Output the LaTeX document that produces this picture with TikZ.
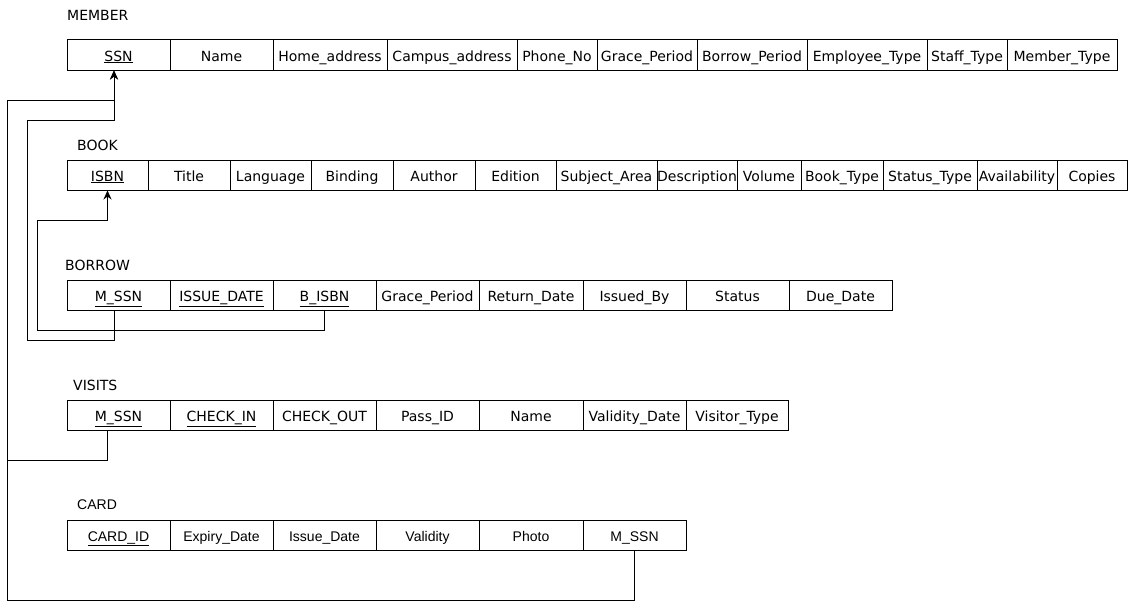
\documentclass[tikz,border=0pt]{standalone}
\usepackage{fontspec}
\setmainfont{DejaVu Sans}
\newfontfamily\arialfont{Liberation Sans}
\usetikzlibrary{arrows.meta}

\tikzset{
  attr/.style = {draw, line width=1pt, inner sep=0pt, minimum height=30pt,
                 text height=12pt, text depth=0pt,
                 font=\fontsize{14}{16}\selectfont},
  cardattr/.style = {attr, font=\arialfont\fontsize{14}{16}\selectfont},
  title/.style = {anchor=west, inner sep=0pt, font=\fontsize{14}{16}\selectfont},
  fk/.style = {line width=1pt},
  fkarrow/.style = {fk, -{Stealth[length=9pt, width=8pt]}},
}

\begin{document}
\begin{tikzpicture}[x=1pt, y=-1pt]
  \useasboundingbox (0,0) rectangle (1129,602);

  % MEMBER
  \node [title] (member) at (67,15) {MEMBER};
  \foreach \xa/\xb/\txt/\nm in {67/170/\underline{SSN}/ssn, 170/273/Name/name,
      273/387/Home\_address/home, 387/517/Campus\_address/campus,
      517/597/Phone\_No/phone, 597/697/Grace\_Period/grace,
      697/807/Borrow\_Period/borrow, 807/927/Employee\_Type/emp,
      927/1007/Staff\_Type/staff, 1007/1117/Member\_Type/mtype}
    \node [attr, minimum width=\xb-\xa] (mem-\nm) at ({(\xa+\xb)/2},55) {\txt};

  % BOOK
  \node [title] (book) at (77,145) {BOOK};
  \foreach \xa/\xb/\txt/\nm in {67/148/\underline{ISBN}/isbn, 148/230/Title/title,
      230/311/Language/lang, 311/393/Binding/bind, 393/475/Author/author,
      475/556/Edition/edition, 556/657/Subject\_Area/subject,
      657/737/Description/descr, 737/801/Volume/volume,
      801/883/Book\_Type/btype, 883/977/Status\_Type/stype,
      977/1057/Availability/avail, 1057/1127/Copies/copies}
    \node [attr, minimum width=\xb-\xa] (bk-\nm) at ({(\xa+\xb)/2},175) {\txt};

  % BORROW
  \node [title] (borrow) at (65,265) {BORROW};
  \foreach \xa/\xb/\txt/\nm in {67/170/\underline{M\_SSN}/mssn,
      170/273/\underline{ISSUE\_DATE}/idate, 273/376/\underline{B\_ISBN}/bisbn,
      376/479/Grace\_Period/grace, 479/583/Return\_Date/ret,
      583/686/Issued\_By/issued, 686/789/Status/status, 789/892/Due\_Date/due}
    \node [attr, minimum width=\xb-\xa] (bor-\nm) at ({(\xa+\xb)/2},295) {\txt};

  % VISITS
  \node [title] (visits) at (73,385) {VISITS};
  \foreach \xa/\xb/\txt/\nm in {67/170/\underline{M\_SSN}/mssn,
      170/273/\underline{CHECK\_IN}/checkin, 273/376/CHECK\_OUT/checkout,
      376/479/Pass\_ID/pass, 479/583/Name/name,
      583/686/Validity\_Date/vdate, 686/788/Visitor\_Type/vtype}
    \node [attr, minimum width=\xb-\xa] (vis-\nm) at ({(\xa+\xb)/2},415) {\txt};

  % CARD
  \node [title, font=\arialfont\fontsize{14}{16}\selectfont] (card) at (77,505) {CARD};
  \foreach \xa/\xb/\txt/\nm in {67/170/\underline{CARD\_ID}/cid,
      170/273/Expiry\_Date/expiry, 273/376/Issue\_Date/issue,
      376/479/Validity/valid, 479/583/Photo/photo, 583/686/M\_SSN/mssn}
    \node [cardattr, minimum width=\xb-\xa] (card-\nm) at ({(\xa+\xb)/2},535) {\txt};

  % foreign keys
  \coordinate (lane-a) at (7,100);
  \coordinate (lane-b) at (27,120);
  \coordinate (lane-c) at (37,220);
  \draw [fkarrow] ([xshift=-11.5]vis-mssn.south) |- (7,460) -- (lane-a)
    -| ([xshift=-4.5]mem-ssn.south);
  \draw [fk] (card-mssn.south) |- (7,600) -- (7,460);
  \draw [fkarrow] ([xshift=-4.5]bor-mssn.south) |- (27,340) -- (lane-b)
    -| ([xshift=-4.5]mem-ssn.south);
  \draw [fkarrow] (bor-bisbn.south) |- (37,330) -- (lane-c) -| (bk-isbn.south);
\end{tikzpicture}
\end{document}
